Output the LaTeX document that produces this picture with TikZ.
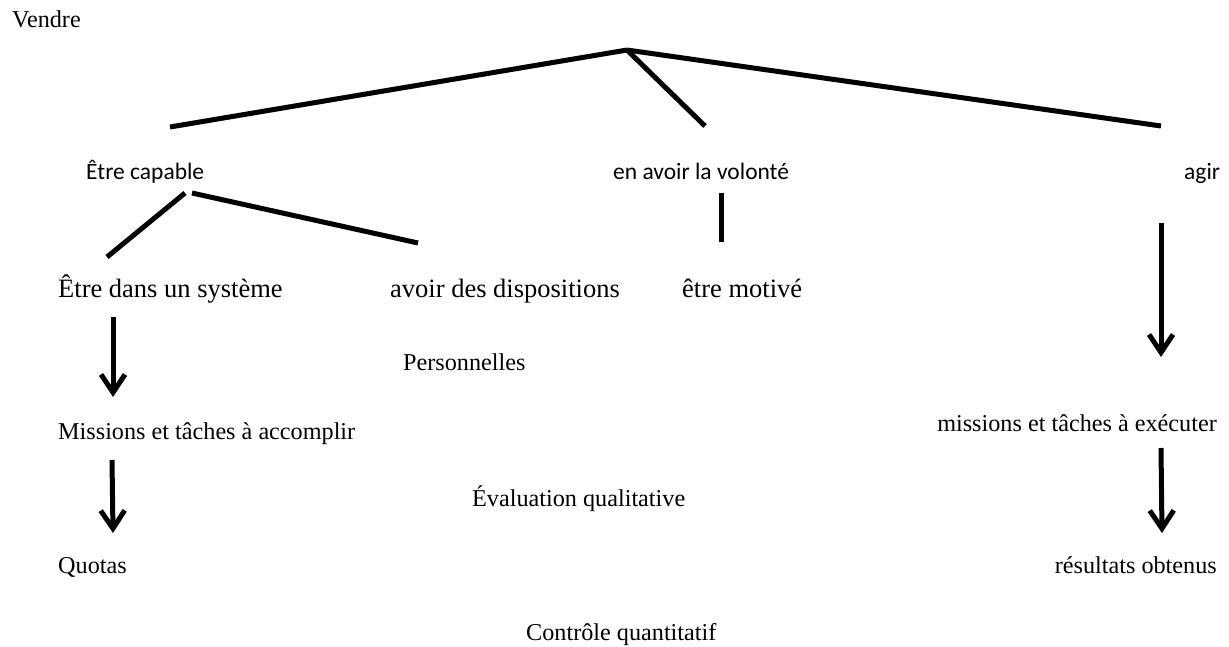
\documentclass[tikz,border=0pt]{standalone}
\usepackage{fontspec}
\setmainfont{Liberation Serif}
\newfontfamily\calib{Carlito}
\usetikzlibrary{arrows.meta}
\begin{document}
\begin{tikzpicture}[x=1pt,y=-1pt,
  lbl/.style={anchor=base west,inner sep=0pt,font=\fontsize{24.2}{28}\selectfont},
  lble/.style={anchor=base east,inner sep=0pt,font=\fontsize{24.2}{28}\selectfont},
  lblbig/.style={anchor=base west,inner sep=0pt,font=\fontsize{26.5}{30}\selectfont},
  lblsans/.style={anchor=base west,inner sep=0pt,font=\calib\fontsize{23.5}{27}\selectfont},
  shadowed/.style={preaction={draw=black!14,transform canvas={shift={(1pt,-2pt)}}}},
  branch/.style={line width=5pt,shadowed},
  darrow/.style={line width=5pt,shadowed,-{Straight Barb[length=18pt,width=24pt]}}]
\useasboundingbox (0,0) rectangle (1229,647);
% texts
\node[lbl] (vendre) at (12,28) {Vendre};
\node[lblsans] (capable) at (86,180) {Être capable};
\node[lblsans] (volonte) at (613,180) {en avoir la volonté};
\node[lblsans] (agir) at (1184,180) {agir};
\node[lblbig] (systeme) at (58,298) {Être dans un système};
\node[lblbig] (dispo) at (390,298) {avoir des dispositions};
\node[lblbig] (motive) at (682,298) {être motivé};
\node[lbl] (perso) at (403,370) {Personnelles};
\node[lbl] (missA) at (58,439) {Missions et tâches à accomplir};
\node[lble] (missE) at (1217,431) {missions et tâches à exécuter};
\node[lbl] (evalq) at (472,506) {Évaluation qualitative};
\node[lbl] (quotas) at (58,573) {Quotas};
\node[lble] (result) at (1217,573) {résultats obtenus};
\node[lbl] (ctrl) at (526,640) {Contrôle quantitatif};
% connector end points
\coordinate (apex) at (627,50);
\coordinate (a1) at (170,127);
\coordinate (a2) at (705,126);
\coordinate (a3) at (1161,126);
\coordinate (c0) at (185,193);
\coordinate (c1) at (107,257);
\coordinate (c2) at (192,193);
\coordinate (c3) at (418,243);
\coordinate (v0) at (721,193);
\coordinate (v1) at (721,242);
\coordinate (s0) at (113,317);
\coordinate (s1) at (113,397);
\coordinate (m0) at (112,460);
\coordinate (m1) at (113,533);
\coordinate (g0) at (1161,223);
\coordinate (g1) at (1161,357);
\coordinate (e0) at (1161,448);
\coordinate (e1) at (1162,533);
% branches
\draw[branch] (apex) -- (a1);
\draw[branch] (apex) -- (a2);
\draw[branch] (apex) -- (a3);
\draw[branch] (c0) -- (c1);
\draw[branch] (c2) -- (c3);
\draw[branch] (v0) -- (v1);
% arrows
\draw[darrow] (s0) -- (s1);
\draw[darrow] (m0) -- (m1);
\draw[darrow] (g0) -- (g1);
\draw[darrow] (e0) -- (e1);
\end{tikzpicture}
\end{document}
